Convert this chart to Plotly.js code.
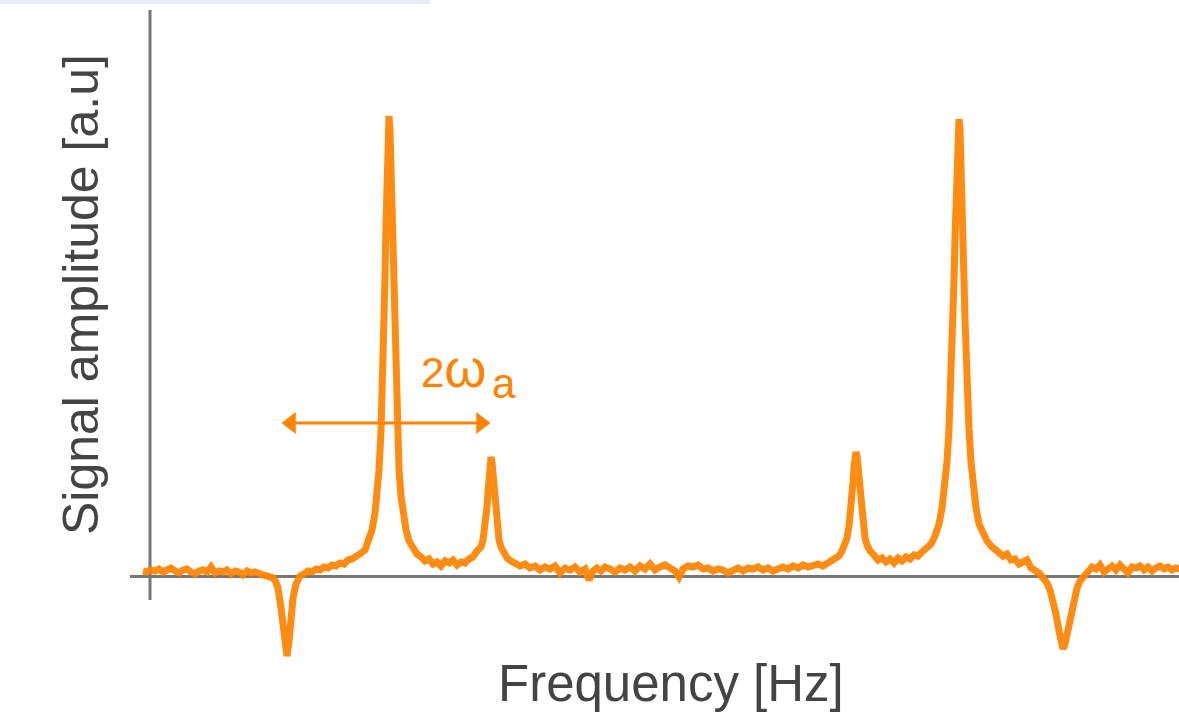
<!DOCTYPE html>
<html>
<head>
<meta charset="utf-8">
<script src="https://cdn.plot.ly/plotly-3.0.1.min.js"></script>
<style>html,body{margin:0;padding:0;background:#fff;}#chart{width:1179px;height:715px;}</style>
</head>
<body>
<div id="chart"></div>
<script>
// Frequency axis (arbitrary units) and signal amplitude (a.u.)
const freqLeft = [-0.7,-0.3,0.1,0.5,0.9,1.3,1.7,2.1,2.5,2.9,3.3,3.7,4.1,4.5,4.9,5.3,5.7,6.1,6.5,6.9,7.3,7.7,8.1,8.5,8.9,9.3,9.7,10.1,10.5,10.9,11.3,11.7,12.1];
const ampLeft  = [1.0,0.8,1.2,1.0,1.4,0.8,1.2,1.6,1.0,0.6,1.2,1.4,0.8,0.4,1.0,1.2,0.8,1.8,0.6,1.0,0.8,1.2,0.4,1.0,0.8,0.2,1.0,0.6,0.8,0.4,0.2,0.0,-0.2];

const freqDip1 = [12.5,12.8,13.1,13.3,13.5,13.7,13.9,14.1,14.3,14.6,15.0];
const ampDip1  = [-0.8,-2.4,-6.4,-10.4,-14.0,-16.0,-13.2,-8.4,-4.4,-1.6,0.0];

const freqRise1 = [15.4,15.8,16.2,16.6,17.0,17.4,17.8,18.2,18.6,19.0,19.4,19.8,20.2,20.6,21.0,21.5,21.9,22.2,22.5,22.7,22.9];
const ampRise1  = [0.4,1.0,0.8,1.4,1.2,1.8,1.6,2.2,2.0,2.6,2.4,3.2,3.4,3.8,4.4,5.2,7.0,9.2,12.6,16.0,21.2];

const freqPeak1 = [23.1,23.2,23.3,23.4,23.5,23.6,23.7,23.8,23.9,24.0,24.1,24.2,24.3,24.4,24.5,24.6,24.7,24.9,25.1,25.3,25.6,25.9,26.3,26.7,27.1];
const ampPeak1  = [29.0,34.6,41.4,49.6,59.6,70.6,81.6,89.2,92.0,89.2,81.6,70.6,59.6,49.6,41.4,34.6,29.0,21.2,16.0,12.6,9.2,7.0,5.4,4.4,3.8];

const freqGap1 = [27.5,27.9,28.3,28.7,29.1,29.5,29.9,30.3,30.7,31.1,31.5,31.9,32.3,32.7,33.1];
const ampGap1  = [3.0,3.4,2.4,2.8,2.0,3.0,2.6,3.2,2.2,2.8,2.6,3.4,3.8,5.0,5.8];

const freqSide1 = [33.3,33.5,33.6,33.7,33.8,33.9,34.0,34.1,34.2,34.3,34.4,34.5,34.6,34.7,34.9,35.1,35.4,35.7,36.1];
const ampSide1  = [7.2,9.6,11.6,13.8,16.8,20.0,22.8,23.8,22.8,20.0,16.8,13.8,11.6,9.6,7.2,5.8,4.4,3.6,3.0];

const freqMid = [36.5,37.0,37.5,38.0,38.5,39.0,39.5,40.0,40.5,41.0,41.5,42.0,42.5,43.0,43.5,43.9,44.3,44.7,45.1,45.5,
  46.0,46.5,47.0,47.5,48.0,48.5,49.0,49.5,50.0,50.5,51.0,51.5,52.0,52.5,52.9,53.3,
  53.8,54.3,54.8,55.3,55.8,56.3,56.8,57.3,57.8,58.3,58.8,59.3,59.8,60.3,60.8,61.3,61.8,62.3,62.8,63.3,63.8,64.3,64.8,65.3,65.8,66.3,66.8,67.3,
  67.7,68.1,68.5,68.9,69.2,69.5,69.7,69.9];
const ampMid  = [2.6,2.0,2.4,1.6,2.0,1.2,1.8,1.4,2.0,0.6,1.6,1.2,1.8,0.8,1.4,-0.8,1.0,1.6,1.0,1.8,
  1.4,0.8,1.6,1.2,1.8,1.0,2.0,1.4,2.4,1.2,1.8,2.2,1.6,1.0,-0.2,1.4,
  2.0,1.8,2.2,1.4,1.6,1.0,1.4,1.2,0.6,1.2,1.6,1.0,1.6,1.4,1.8,1.2,1.6,1.0,1.6,1.8,1.4,2.0,1.6,2.2,1.8,2.0,2.4,2.0,
  2.6,2.8,3.4,4.0,5.0,6.2,7.6,10.0];

const freqSide2 = [70.0,70.1,70.2,70.3,70.4,70.5,70.6,70.7,70.8,70.9,71.0,71.1,71.2,71.3,71.5,71.7,72.0,72.4];
const ampSide2  = [11.6,13.6,16.0,18.8,21.8,24.0,24.8,24.0,21.8,18.8,16.0,13.6,11.6,10.0,7.6,6.2,5.0,4.2];

const freqGap2 = [72.8,73.2,73.6,74.0,74.4,74.8,75.2,75.6,76.0,76.4,76.8,77.2,77.6,78.1,78.5,78.9,79.2];
const ampGap2  = [3.2,3.6,2.8,3.4,2.6,3.6,3.0,3.8,3.4,4.2,4.0,4.8,5.4,6.4,8.0,10.4,13.6];

const freqPeak2 = [79.5,79.7,79.9,80.1,80.2,80.3,80.4,80.5,80.6,80.7,80.8,80.9,81.0,81.1,81.2,81.3,81.4,81.5,81.6,81.7,81.9,82.1,82.3,82.6,82.9];
const ampPeak2  = [18.2,22.8,29.4,38.6,44.4,51.4,59.2,67.8,76.4,84.0,89.4,91.4,89.4,84.0,76.4,67.8,59.2,51.4,44.4,38.6,29.4,22.8,18.2,13.6,10.4];

const freqTail2 = [83.3,83.7,84.1,84.5,84.9,85.3,85.7,86.1,86.5,86.9,87.3,87.7,88.1,88.5,88.9];
const ampTail2  = [8.4,7.0,6.0,5.4,4.8,4.0,4.4,3.2,3.4,2.4,2.8,3.2,1.6,1.2,0.6];

const freqDip2 = [89.3,89.7,90.0,90.3,90.6,90.9,91.1,91.3,91.5,91.8,92.1,92.4,92.7,93.0,93.4];
const ampDip2  = [-0.4,-1.4,-2.8,-4.8,-7.6,-11.0,-13.2,-14.6,-13.6,-10.4,-7.2,-4.4,-2.4,-1.0,0.0];

const freqRight = [93.8,94.2,94.6,95.0,95.4,95.8,96.2,96.6,97.0,97.4,97.8,98.2,98.6,99.0,99.4,99.8,100.2,100.6,101.0,101.4,101.8,102.2,102.6,103.0];
const ampRight  = [1.2,1.8,1.4,2.2,0.8,1.6,2.0,1.2,2.2,1.4,0.6,1.8,1.6,2.0,1.2,1.8,1.0,1.6,2.0,1.4,1.8,1.2,1.6,1.4];

// Double arrow marking the 2ω_a splitting: span in frequency and its height
const splitFreq = [14.1, 33.1];
const splitAmp = [30.6, 30.6];
const splitLabelMain = '2<span style="font-size:54px">ω</span>';
const splitLabelSub = 'a';

const xTitle = 'Frequency [Hz]';
const yTitle = 'Signal amplitude [a.u]';

const freq = [].concat(freqLeft, freqDip1, freqRise1, freqPeak1, freqGap1, freqSide1, freqMid, freqSide2, freqGap2, freqPeak2, freqTail2, freqDip2, freqRight);
const amp  = [].concat(ampLeft, ampDip1, ampRise1, ampPeak1, ampGap1, ampSide1, ampMid, ampSide2, ampGap2, ampPeak2, ampTail2, ampDip2, ampRight);

const orange = '#ff8300';
const axisGrey = '#767676';
const textGrey = '#444444';
const font = 'Liberation Sans, Arial, Helvetica, sans-serif';

const spectrum = {
  x: freq, y: amp, type: 'scatter', mode: 'lines',
  line: {color: 'rgba(255,131,0,0.93)', width: 7, shape: 'linear'},
  hoverinfo: 'skip', showlegend: false
};

const splitArrow = {
  x: splitFreq, y: splitAmp, type: 'scatter', mode: 'lines+markers',
  line: {color: orange, width: 3},
  marker: {symbol: ['triangle-left', 'triangle-right'], size: 19, color: orange, line: {width: 0}},
  hoverinfo: 'skip', showlegend: false
};

const layout = {
  width: 1179, height: 715,
  margin: {l: 130, r: 0, t: 12, b: 53, pad: 0},
  paper_bgcolor: '#ffffff', plot_bgcolor: '#ffffff',
  showlegend: false,
  xaxis: {
    range: [-2, 102.9], showgrid: false, zeroline: false, showline: false,
    showticklabels: false, ticks: '', fixedrange: true, automargin: false
  },
  yaxis: {
    range: [-17.2, 112.8], showgrid: false, zeroline: true, zerolinecolor: axisGrey, zerolinewidth: 3,
    showline: false, showticklabels: false, ticks: '', fixedrange: true, automargin: false
  },
  shapes: [
    {type: 'line', layer: 'below', xref: 'x', yref: 'paper', x0: 0, x1: 0, y0: 0.0954, y1: 1.003,
     line: {color: axisGrey, width: 3}},
    {type: 'rect', layer: 'below', xref: 'paper', yref: 'paper', x0: -0.1239, x1: 0.286, y0: 1.0123, y1: 1.0185,
     fillcolor: '#e4eef9', line: {width: 0}}
  ],
  annotations: [
    {x: 26.9, y: 35.2, xref: 'x', yref: 'y', xanchor: 'left', yanchor: 'bottom', showarrow: false,
     text: splitLabelMain, font: {family: font, size: 42, color: orange}},
    {x: 34.0, y: 33.4, xref: 'x', yref: 'y', xanchor: 'left', yanchor: 'bottom', showarrow: false,
     text: splitLabelSub, font: {family: font, size: 42, color: orange}},
    {x: 0.5157, y: -0.033, xref: 'paper', yref: 'paper', xanchor: 'center', yanchor: 'middle', showarrow: false,
     text: xTitle, font: {family: font, size: 51, color: textGrey}},
    {x: -0.0467, y: 0.5646, xref: 'paper', yref: 'paper', xanchor: 'center', yanchor: 'middle', showarrow: false,
     textangle: -90, text: yTitle, font: {family: font, size: 50, color: textGrey}}
  ]
};

Plotly.newPlot('chart', [spectrum, splitArrow], layout, {displayModeBar: false, staticPlot: true});
</script>
</body>
</html>
